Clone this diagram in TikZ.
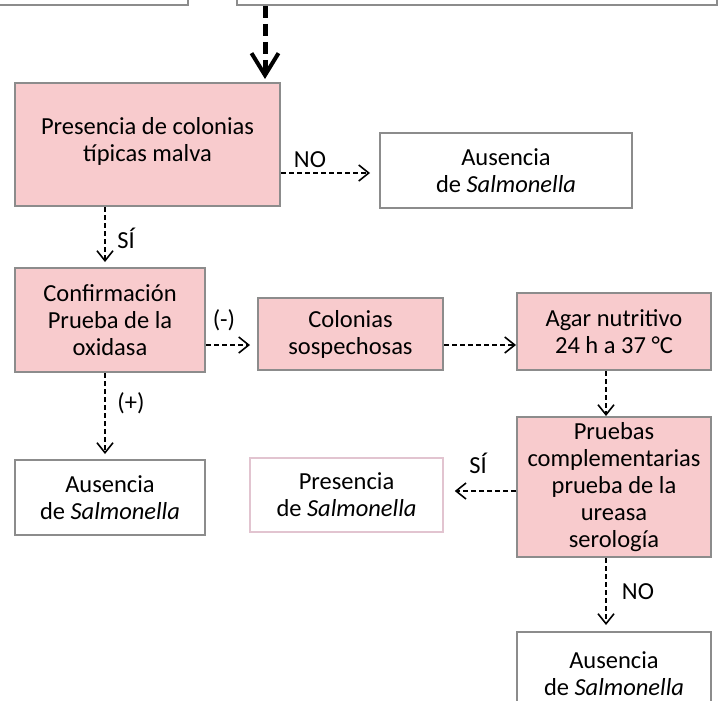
\documentclass[tikz,border=0pt]{standalone}
\usepackage{fontspec}
\setmainfont{Carlito}
\usetikzlibrary{arrows.meta}
\definecolor{pinkfill}{HTML}{F8CBCD}
\definecolor{boxgray}{HTML}{8C8C8C}
\definecolor{lightpink}{HTML}{E2C4D0}
\begin{document}
\begin{tikzpicture}[x=1pt,y=-1pt,
  base/.style={draw=boxgray, line width=2pt, align=center, inner sep=0pt, font=\fontsize{24.5}{27}\selectfont},
  pinkbox/.style={base, fill=pinkfill},
  whitebox/.style={base, fill=white},
  arr/.style={dash pattern=on 5pt off 3pt, line width=1.3pt, -{Straight Barb[length=10pt,width=16pt,line width=1.6pt]}},
  lab/.style={font=\fontsize{24.5}{27}\selectfont, inner sep=0pt},
  thick arr/.style={line width=5pt, dash pattern=on 12pt off 6pt, -{Straight Barb[length=22pt,width=27pt,line width=4pt]}}
]
\useasboundingbox (0,0) rectangle (720,701);
% partial top boxes
\node[whitebox, minimum width=220pt, minimum height=60pt] (topl) at (78,-25) {};
\node[whitebox, minimum width=480pt, minimum height=60pt] (topr) at (477,-25) {};
% main boxes
\node[pinkbox, minimum width=265pt, minimum height=123pt] (b1) at (147.5,144.5) {Presencia de colonias\\típicas malva\\[-16pt]};
\node[whitebox, minimum width=252pt, minimum height=75pt] (a1) at (506,170.5) {Ausencia\\de \textit{Salmonella}};
\node[pinkbox, minimum width=190pt, minimum height=104pt] (b2) at (110,320) {Confirmación\\Prueba de la\\oxidasa};
\node[pinkbox, minimum width=185pt, minimum height=72pt] (col) at (350.5,334) {Colonias\\sospechosas};
\node[pinkbox, minimum width=194pt, minimum height=77pt] (agar) at (614,331.5) {Agar nutritivo\\24 h a 37 °C};
\node[pinkbox, minimum width=194pt, minimum height=140pt] (pr) at (614,487) {Pruebas\\complementarias\\prueba de la\\ureasa\\serología};
\node[whitebox, draw=lightpink, line width=1.5pt, minimum width=193pt, minimum height=74pt] (pres) at (346.5,495) {Presencia\\de \textit{Salmonella}};
\node[whitebox, minimum width=190pt, minimum height=75pt] (a2) at (110,497.5) {Ausencia\\de \textit{Salmonella}};
\node[whitebox, minimum width=194pt, minimum height=84pt] (a3) at (614,674) {Ausencia\\de \textit{Salmonella}};
% helper coordinates
\coordinate (r1) at (0,173);
\coordinate (c1) at (105,0);
\coordinate (r2) at (0,345);
\coordinate (c3) at (606,0);
\coordinate (r4) at (0,491);
\coordinate (ct) at (265,0);
% connectors
\draw[thick arr] (topr.south -| ct) -- ([yshift=3pt]b1.north -| ct);
\draw[arr, shorten >=9pt] (b1.east |- r1) -- (a1.west |- r1);
\draw[arr, shorten >=5pt] (b1.south -| c1) -- (b2.north -| c1);
\draw[arr, shorten >=7pt] (b2.east |- r2) -- (col.west |- r2);
\draw[arr] (col.east |- r2) -- (agar.west |- r2);
\draw[arr] (agar.south -| c3) -- (pr.north -| c3);
\draw[arr, shorten >=5pt] (b2.south -| c1) -- (a2.north -| c1);
\draw[arr, shorten >=11pt] (pr.west |- r4) -- (pres.east |- r4);
\draw[arr, shorten >=6pt] (pr.south -| c3) -- (a3.north -| c3);
% labels
\node[lab] (l1) at (310,160) {NO};
\node[lab] (l2) at (126,238) {SÍ};
\node[lab] (l3) at (224,320) {(-)};
\node[lab] (l4) at (131,403) {(+)};
\node[lab] (l5) at (478,463) {SÍ};
\node[lab] (l6) at (638,592) {NO};
\end{tikzpicture}
\end{document}
